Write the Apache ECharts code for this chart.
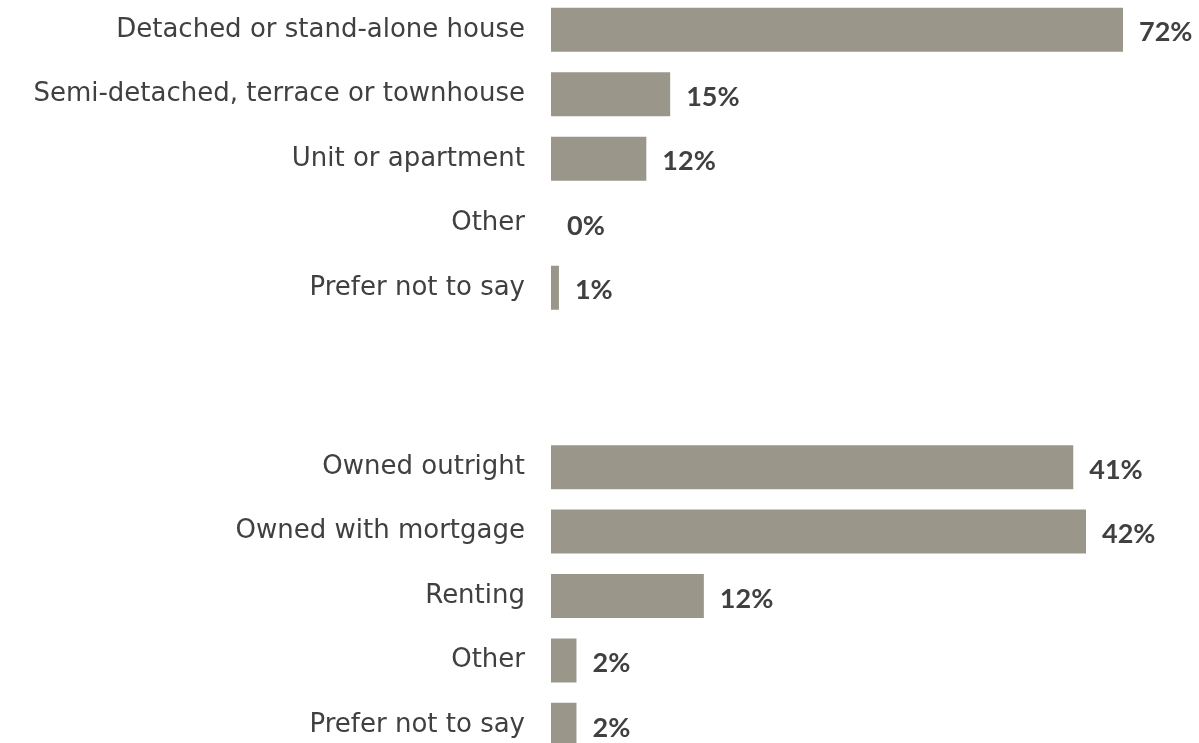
<!DOCTYPE html>
<html>
<head>
<meta charset="utf-8">
<script src="https://cdn.jsdelivr.net/npm/echarts@6/dist/echarts.min.js"></script>
<style>
  html, body { margin: 0; padding: 0; background: #ffffff; overflow: hidden; width: 1199px; height: 743px; }
  /* the canvas is taller than the viewport so the last row can run past the bottom edge */
  #chart { position: absolute; left: 0; top: -20px; width: 1199px; height: 800px; }
</style>
</head>
<body>
<div id="chart"></div>
<script>
// Dwelling type
const dwellingCategories = [
  'Detached or stand-alone house',
  'Semi-detached, terrace or townhouse',
  'Unit or apartment',
  'Other',
  'Prefer not to say'
];
const dwellingValues = [72, 15, 12, 0, 1];

// Tenure
const tenureCategories = [
  'Owned outright',
  'Owned with mortgage',
  'Renting',
  'Other',
  'Prefer not to say'
];
const tenureValues = [41, 42, 12, 2, 2];

const BAR_COLOR = '#9a978a';
const TEXT_COLOR = '#404040';
const CAT_FONT = '"DejaVu Sans", sans-serif';
const VAL_FONT = 'Lato, "Open Sans", sans-serif';
const SHIFT = 20; // offset of the canvas above the viewport

function yAxisFor(gridIndex, cats) {
  return {
    type: 'category',
    gridIndex: gridIndex,
    data: cats,
    inverse: true,
    axisLine: { show: false },
    axisTick: { show: false },
    splitLine: { show: false },
    axisLabel: {
      margin: 26,
      color: TEXT_COLOR,
      fontFamily: CAT_FONT,
      fontSize: 26,
      padding: [4, 0, 0, 0]
    }
  };
}

function xAxisFor(gridIndex, max) {
  return {
    type: 'value',
    gridIndex: gridIndex,
    min: 0,
    max: max,
    show: false
  };
}

function barSeries(idx, values) {
  return {
    type: 'bar',
    xAxisIndex: idx,
    yAxisIndex: idx,
    data: values,
    barWidth: 44,
    itemStyle: { color: BAR_COLOR },
    silent: true,
    label: {
      show: true,
      position: 'right',
      distance: 16,
      formatter: '{c}%',
      color: TEXT_COLOR,
      fontFamily: VAL_FONT,
      fontWeight: 'bold',
      fontSize: 27,
      offset: [0, 3]
    }
  };
}

const chart = echarts.init(document.getElementById('chart'), null, { renderer: 'canvas' });
chart.setOption({
  animation: false,
  backgroundColor: '#ffffff',
  grid: [
    { left: 551, top: SHIFT - 2.5, width: 572, height: 322.5, containLabel: false },
    { left: 551, top: SHIFT + 435, width: 535, height: 322, containLabel: false }
  ],
  xAxis: [xAxisFor(0, 72), xAxisFor(1, 42)],
  yAxis: [yAxisFor(0, dwellingCategories), yAxisFor(1, tenureCategories)],
  series: [barSeries(0, dwellingValues), barSeries(1, tenureValues)]
});
</script>
</body>
</html>
